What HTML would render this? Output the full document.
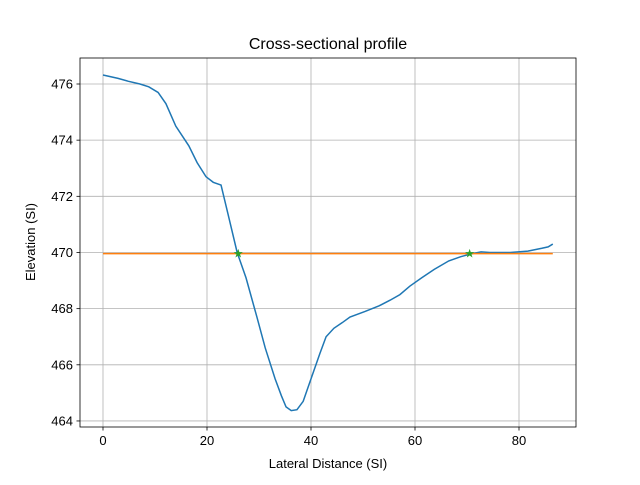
<!DOCTYPE html>
<html><head><meta charset="utf-8"><style>
body{margin:0;background:#fff;}
svg{font-family:"Liberation Sans","DejaVu Sans",sans-serif;}
</style></head><body>
<svg id="chart" width="640" height="480" viewBox="0 0 640 480">
<rect width="640" height="480" fill="#fff"/>
<g id="grid"></g>
<g id="ticks"></g>
<g id="series"></g>
<rect x="80" y="58" width="496" height="369" fill="none" stroke="#000" stroke-width="0.8"/>
<text x="328" y="49" text-anchor="middle" font-size="16">Cross-sectional profile</text>
<text x="328" y="468" text-anchor="middle" font-size="13">Lateral Distance (SI)</text>
<text x="0" y="0" transform="translate(35,242) rotate(-90)" text-anchor="middle" font-size="13">Elevation (SI)</text>
</svg>
<script>
const profileX=[0,2.9,4.8,7.1,8.8,10.6,12.1,14.0,16.5,18.1,19.8,21.2,22.7,24.0,25.8,27.5,29.6,31.2,33.1,34.3,35.2,36.2,37.3,38.5,40.0,41.7,42.9,44.4,46.0,47.5,50.4,53.1,55.2,57.1,59.0,61.3,63.7,66.5,68.8,70.8,72.7,74.4,78.3,81.7,84.4,85.6,86.5];
const profileY=[476.32,476.2,476.1,476.0,475.9,475.7,475.3,474.5,473.8,473.2,472.7,472.5,472.4,471.4,470.0,469.1,467.7,466.6,465.5,464.9,464.5,464.37,464.4,464.7,465.5,466.4,467.0,467.3,467.5,467.7,467.9,468.1,468.3,468.5,468.8,469.1,469.4,469.7,469.85,469.95,470.02,470.0,470.0,470.05,470.15,470.2,470.3];
const waterX=[0,86.5];
const waterY=[469.96,469.96];
const crossX=[26,70.5];
const crossY=[469.96,469.96];
const xTicks=[0,20,40,60,80];
const yTicks=[464,466,468,470,472,474,476];
const sx=v=>103+v*5.2;
const sy=v=>84+(476-v)*28.08;
const NS="http://www.w3.org/2000/svg";
function mk(t,a,p){const e=document.createElementNS(NS,t);for(const k in a)e.setAttribute(k,a[k]);p.appendChild(e);return e;}
const grid=document.getElementById('grid'),ticks=document.getElementById('ticks'),series=document.getElementById('series');
xTicks.forEach(v=>{const x=sx(v);
const g=mk('line',{x1:x,x2:x,y1:58,y2:427,stroke:'#b0b0b0','stroke-width':0.8},grid);


mk('line',{x1:x,x2:x,y1:427,y2:430.5,stroke:'#000','stroke-width':0.8},ticks);
const t=mk('text',{x:x,y:445,'text-anchor':'middle','font-size':13},ticks);t.textContent=v;

});
yTicks.forEach(v=>{const y=sy(v);
const g=mk('line',{x1:80,x2:576,y1:y,y2:y,stroke:'#b0b0b0','stroke-width':0.8},grid);


mk('line',{x1:76.5,x2:80,y1:y,y2:y,stroke:'#000','stroke-width':0.8},ticks);
const t=mk('text',{x:73,y:y+4.5,'text-anchor':'end','font-size':13},ticks);t.textContent=v;

});
const prof=mk('polyline',{points:profileX.map((x,i)=>sx(x)+','+sy(profileY[i])).join(' '),fill:'none',stroke:'#1f77b4','stroke-width':1.5},series);


const wl=mk('polyline',{points:waterX.map((x,i)=>sx(x)+','+sy(waterY[i])).join(' '),fill:'none',stroke:'#ff7f0e','stroke-width':1.5},series);


crossX.forEach((x,i)=>{const t=mk('text',{x:sx(x),y:sy(crossY[i])+4,'text-anchor':'middle','font-size':12,fill:'#2ca02c'},series);t.textContent='★';

});
</script>
</body></html>
